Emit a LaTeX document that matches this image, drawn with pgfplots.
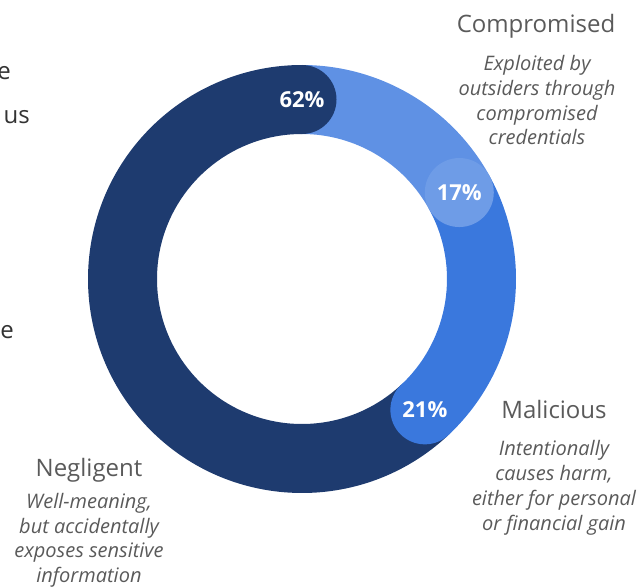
\documentclass[border=0pt]{standalone}
\usepackage{pgfplots}
\pgfplotsset{compat=1.18}
\usepackage{pgfplotstable}
\usepackage{fontspec}
\setmainfont{Open Sans}

\definecolor{cDark}{HTML}{1E3B6F}
\definecolor{cLight}{HTML}{5F91E4}
\definecolor{cMid}{HTML}{3A78DD}
\definecolor{cCap}{HTML}{6E9CE7}
\definecolor{txt}{HTML}{5A5A5A}
\definecolor{txtL}{HTML}{333333}

\pgfplotstableread{
label value
Compromised 17
Malicious 21
Negligent 62
}\donut

\begin{document}
\begin{tikzpicture}
\useasboundingbox (0,0) rectangle (640pt,588pt);
\pgfplotstablegetelem{0}{value}\of\donut \pgfmathsetmacro\vA{\pgfplotsretval}
\pgfplotstablegetelem{1}{value}\of\donut \pgfmathsetmacro\vB{\pgfplotsretval}
\pgfplotstablegetelem{2}{value}\of\donut \pgfmathsetmacro\vC{\pgfplotsretval}
\pgfmathsetmacro\aZ{90}
\pgfmathsetmacro\aA{90-3.6*\vA}
\pgfmathsetmacro\aB{\aA-3.6*\vB}
\pgfmathsetmacro\aC{\aB-3.6*\vC}
\def\Ro{214pt}\def\Ri{145pt}\def\Rm{179.5pt}\def\Rc{34.5pt}
\begin{axis}[x=1pt,y=1pt,xmin=0,xmax=640,ymin=0,ymax=588,y dir=reverse,
  hide axis,scale only axis,clip=false,anchor=south west,at={(0,0)}]
% ring sectors
\fill[cLight] (axis cs:302,279) ++(\aZ:\Ro) arc[start angle=\aZ,end angle=\aA,radius=\Ro] -- ++(\aA:-69pt) arc[start angle=\aA,end angle=\aZ,radius=\Ri] -- cycle;
\fill[cMid] (axis cs:302,279) ++(\aA:\Ro) arc[start angle=\aA,end angle=\aB,radius=\Ro] -- ++(\aB:-69pt) arc[start angle=\aB,end angle=\aA,radius=\Ri] -- cycle;
\fill[cDark] (axis cs:302,279) ++(\aB:\Ro) arc[start angle=\aB,end angle=\aC,radius=\Ro] -- ++(\aC:-69pt) arc[start angle=\aC,end angle=\aB,radius=\Ri] -- cycle;
% rounded caps
\fill[cDark] (axis cs:302,279) ++(\aC:\Rm) circle[radius=\Rc];
\fill[cCap] (axis cs:302,279) ++(\aA:\Rm) circle[radius=\Rc];
\fill[cMid] (axis cs:302,279) ++(\aB:\Rm) circle[radius=\Rc];
% percentages
\path (axis cs:302,279) ++(\aC:\Rm) node[white,font=\bfseries\fontsize{22}{26}\selectfont] {62\%};
\path (axis cs:302,279) ++(\aA:\Rm) node[white,font=\bfseries\fontsize{22}{26}\selectfont] {17\%};
\path (axis cs:302,279) ++(\aB:\Rm) node[white,font=\bfseries\fontsize{22}{26}\selectfont] {21\%};
% category labels
\begin{scope}[every node/.style={txt,anchor=base,inner sep=0pt}]
\node[font=\fontsize{24}{28}\selectfont] at (axis cs:536,33) {Compromised};
\node[font=\itshape\fontsize{20}{24}\selectfont] at (axis cs:537,71) {Exploited by};
\node[font=\itshape\fontsize{20}{24}\selectfont] at (axis cs:537,96) {outsiders through};
\node[font=\itshape\fontsize{20}{24}\selectfont] at (axis cs:537,121) {compromised};
\node[font=\itshape\fontsize{20}{24}\selectfont] at (axis cs:537,145) {credentials};
\node[font=\fontsize{24}{28}\selectfont] at (axis cs:554,418) {Malicious};
\node[font=\itshape\fontsize{20}{24}\selectfont] at (axis cs:554,455) {Intentionally};
\node[font=\itshape\fontsize{20}{24}\selectfont] at (axis cs:554,480) {causes harm,};
\node[font=\itshape\fontsize{20}{24}\selectfont] at (axis cs:554,505) {either for personal};
\node[font=\itshape\fontsize{20}{24}\selectfont] at (axis cs:554,530) {or financial gain};
\node[font=\fontsize{24}{28}\selectfont] at (axis cs:89,476) {Negligent};
\node[font=\itshape\fontsize{20}{24}\selectfont] at (axis cs:89,508) {Well-meaning,};
\node[font=\itshape\fontsize{20}{24}\selectfont] at (axis cs:89,533) {but accidentally};
\node[font=\itshape\fontsize{20}{24}\selectfont] at (axis cs:89,557) {exposes sensitive};
\node[font=\itshape\fontsize{20}{24}\selectfont] at (axis cs:89,582) {information};
% cut-off text at left edge (as in the reference)
\node[txtL,anchor=base east,font=\fontsize{24}{28}\selectfont] at (axis cs:11,80) {e};
\node[txtL,anchor=base east,font=\fontsize{24}{28}\selectfont] at (axis cs:30,124) {us};
\node[txtL,anchor=base east,font=\fontsize{24}{28}\selectfont] at (axis cs:14,338) {e};
\end{scope}
\end{axis}
\end{tikzpicture}
\end{document}
